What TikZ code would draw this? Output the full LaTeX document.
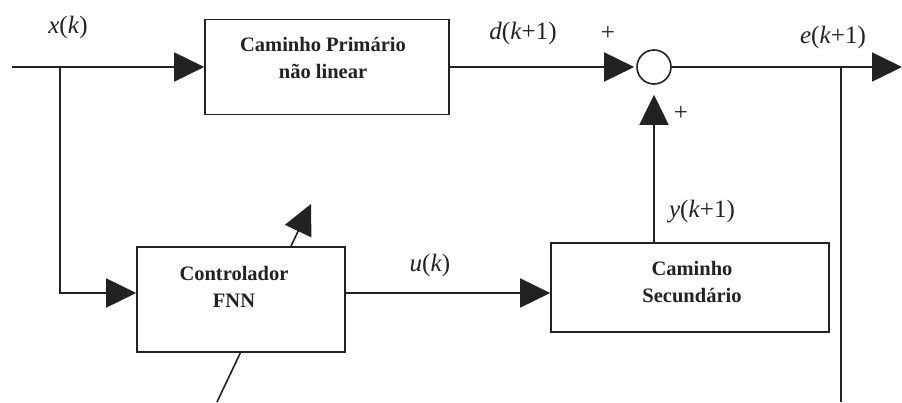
\documentclass[tikz,border=0pt]{standalone}
\usepackage{fontspec}
\setmainfont{Liberation Serif}
\usetikzlibrary{arrows.meta}
\definecolor{ink}{HTML}{222222}
\begin{document}
\begin{tikzpicture}[x=1pt,y=-1pt, line width=1.6pt, draw=ink,
  arr/.style={-{Triangle[length=30pt,width=29pt]}},
  blk/.style={draw=ink, line width=1.6pt, fill=white, inner sep=0pt},
  btxt/.style={font=\fontsize{20.5}{27}\selectfont\bfseries, align=center, text=ink},
  lbl/.style={font=\fontsize{25}{27}\selectfont, text=ink, inner sep=0pt}]
\useasboundingbox[fill=white] (0,0) rectangle (902,402);
% adaptation arrow (behind controller box)
\coordinate (adA) at (217,402);
\coordinate (adB) at (311,204);
\draw[arr] (adA) -- (adB);
% blocks
\node[blk, minimum width=244pt, minimum height=95pt] (prim) at (327,67) {};
\node[btxt] (primtxt) at (323,58) {Caminho Primário\\não linear};
\node[blk, minimum width=208pt, minimum height=105pt] (ctrl) at (241,299.5) {};
\node[btxt] (ctrltxt) at (234,287) {Controlador\\FNN};
\node[blk, minimum width=278pt, minimum height=89pt] (sec) at (690,287.5) {};
\node[btxt] (sectxt) at (692,282.5) {Caminho\\Secundário};
\node[draw=ink, line width=1.6pt, circle, minimum size=34pt, inner sep=0pt] (sum) at (654,67) {};
% coordinates
\coordinate (in) at (12,67);
\coordinate (br1) at (60,67);
\coordinate (out) at (902,67);
\coordinate (br2) at (841,67);
\coordinate (fb) at (841,402);
% connectors
\draw[arr] (in) -- (prim.west);
\draw[arr] (br1) |- ([yshift=6.5pt]ctrl.west);
\draw[arr, shorten >=2pt] (prim.east) -- (sum.west);
\draw[arr] (sum.east) -- (out);
\draw (br2) -- (fb);
\draw[arr] ([yshift=6.5pt]ctrl.east) -- ([yshift=-5.5pt]sec.west);
\draw[arr, shorten >=10pt] (sec.north -| sum.south) -- (sum.south);
% labels
\node[lbl] (lx) at (68,27) {\textit{x}(\textit{k})};
\node[lbl] (ld) at (523,33) {\textit{d}(\textit{k}+1)};
\node[lbl] (lp1) at (608,33) {+};
\node[lbl] (le) at (833,37) {\textit{e}(\textit{k}+1)};
\node[lbl] (lp2) at (681,113) {+};
\node[lbl] (ly) at (702,212) {\textit{y}(\textit{k}+1)};
\node[lbl] (lu) at (430,265) {\textit{u}(\textit{k})};
\end{tikzpicture}
\end{document}
